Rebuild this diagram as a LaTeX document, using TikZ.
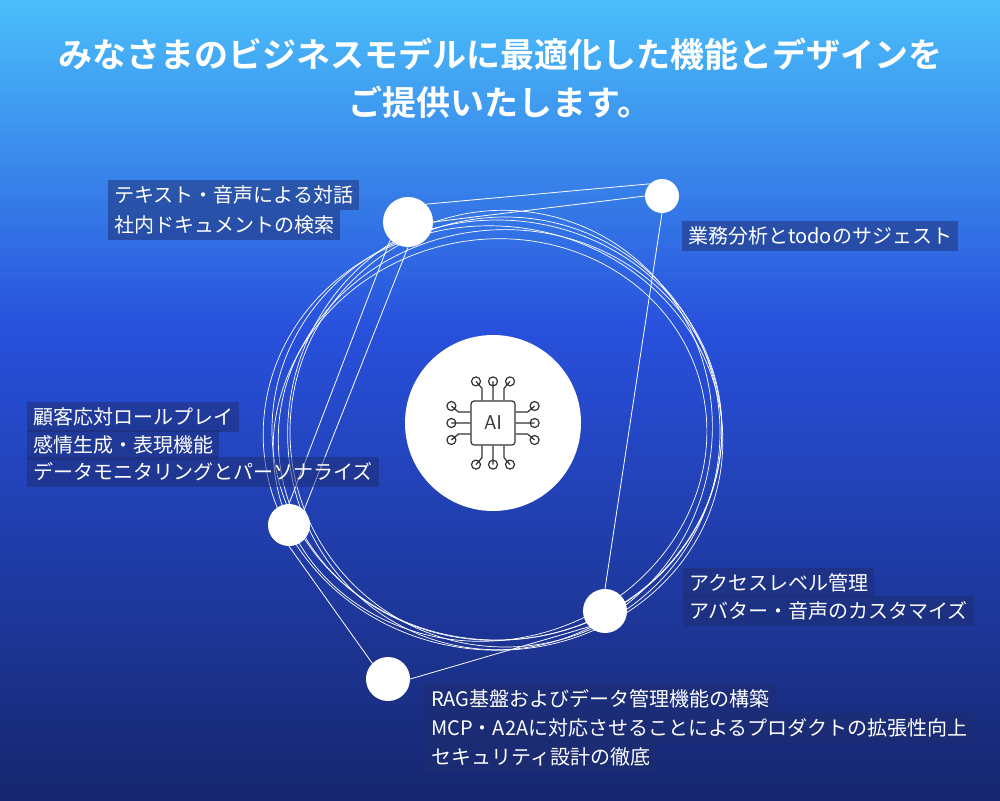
\documentclass[tikz,border=0pt]{standalone}
\usepackage{fontspec}
\newfontfamily\jp{Noto Sans CJK JP}
\newfontfamily\jpb{Noto Sans CJK JP Bold}
\usetikzlibrary{calc}
\definecolor{lblfill}{RGB}{30,45,110}
\begin{document}
\begin{tikzpicture}[x=1pt,y=-1pt,
  lbl/.style={anchor=west,fill=lblfill,fill opacity=0.5,text opacity=1,text=white,font=\jp\fontsize{20}{22}\selectfont,inner xsep=6pt,inner ysep=3pt,minimum height=30pt},
  dot/.style={circle,fill=white,inner sep=0pt},
  orb/.style={draw=white,line width=0.7pt},
  edge/.style={draw=white,line width=0.8pt}]
\useasboundingbox (0,0) rectangle (1000,800);
\shade[top color={rgb,255:red,74;green,190;blue,250}, bottom color={rgb,255:red,40;green,80;blue,220}] (0,0) rectangle (1000,330);
\shade[top color={rgb,255:red,40;green,80;blue,220}, bottom color={rgb,255:red,22;green,38;blue,110}] (0,329.5) rectangle (1000,800);
\node[text=white,font=\jpb\fontsize{34}{48}\selectfont,align=center] (title) at (500,78) {みなさまのビジネスモデルに最適化した機能とデザインを\\ご提供いたします。};
% orbits
\draw[orb] (497,430) ellipse (225 and 210);
\draw[orb,rotate around={8:(500,435)}] (500,435) ellipse (222 and 205);
\draw[orb,rotate around={-6:(493,438)}] (493,438) ellipse (230 and 212);
\draw[orb] (505,432) ellipse (215 and 215);
\draw[orb,rotate around={15:(490,440)}] (490,440) ellipse (218 and 200);
\draw[orb,rotate around={-12:(500,430)}] (500,430) ellipse (212 and 220);
% nodes
\node[dot,minimum size=50pt] (a) at (408,222) {};
\node[dot,minimum size=34pt] (b) at (662,196) {};
\node[dot,minimum size=42pt] (c) at (289,525) {};
\node[dot,minimum size=44pt] (d) at (605,611) {};
\node[dot,minimum size=44pt] (e) at (388,679) {};
\draw[edge] (a.north east) -- (b.north west);
\draw[edge] (a.east) -- (b.west);
\draw[edge] (a.south) -- (c.north east);
\draw[edge] (b.south) -- (d.north);
\draw[edge] (c.south) -- (e.north west);
\draw[edge] (e.east) -- (d.south west);
\draw[edge] (a.south west) -- (c.north);
% center
\node[dot,minimum size=176pt] (ai) at (493,423) {};
\node[draw=black!80,line width=1.2pt,rounded corners=3pt,minimum size=44pt,font=\sffamily\fontsize{20}{20}\selectfont,text=black!80] (chip) at (493,423) {AI};
\begin{scope}[black!80,line width=1.2pt]
\foreach \dx/\s in {-11/-1,0/0,11/1}{\draw ($(chip.north)+(\dx,0)$) -- ++(0,-12) -- ++(\s*6,-7) circle (4.5);}
\foreach \dx/\s in {-11/-1,0/0,11/1}{\draw ($(chip.south)+(\dx,0)$) -- ++(0,12) -- ++(\s*6,7) circle (4.5);}
\foreach \dy/\s in {-11/-1,0/0,11/1}{\draw ($(chip.west)+(0,\dy)$) -- ++(-12,0) -- ++(-7,\s*6) circle (4.5);}
\foreach \dy/\s in {-11/-1,0/0,11/1}{\draw ($(chip.east)+(0,\dy)$) -- ++(12,0) -- ++(7,\s*6) circle (4.5);}
\end{scope}
% labels
\node[lbl] (l1) at (108,195) {テキスト・音声による対話};
\node[lbl] (l2) at (108,225) {社内ドキュメントの検索};
\node[lbl] (l3) at (682,236) {業務分析とtodoのサジェスト};
\node[lbl] (l4) at (27,417) {顧客応対ロールプレイ};
\node[lbl] (l5) at (27,445) {感情生成・表現機能};
\node[lbl] (l6) at (27,472) {データモニタリングとパーソナライズ};
\node[lbl] (l7) at (683,583) {アクセスレベル管理};
\node[lbl] (l8) at (683,611) {アバター・音声のカスタマイズ};
\node[lbl] (l9) at (425,699) {RAG基盤およびデータ管理機能の構築};
\node[lbl] (l10) at (425,728) {MCP・A2Aに対応させることによるプロダクトの拡張性向上};
\node[lbl] (l11) at (425,757) {セキュリティ設計の徹底};
\end{tikzpicture}
\end{document}
